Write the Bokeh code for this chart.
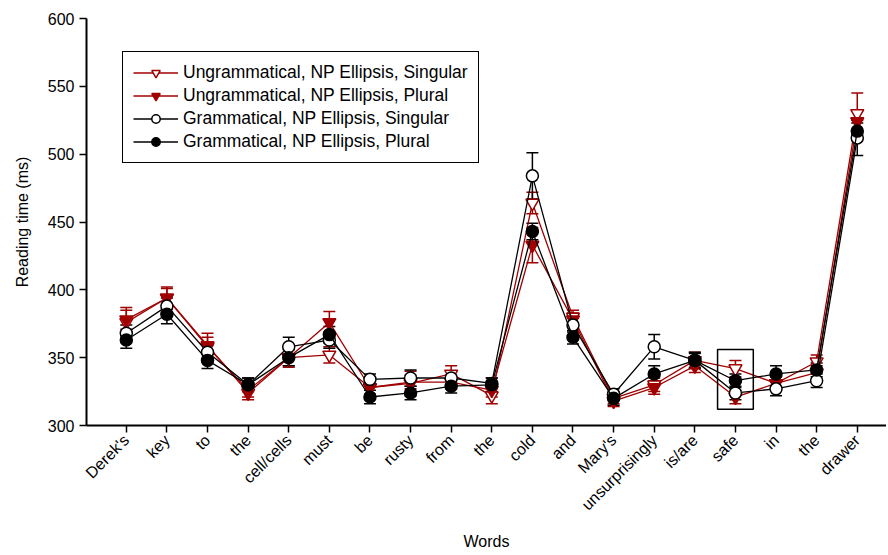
import math
from bokeh.plotting import figure
from bokeh.models import (ColumnDataSource, Whisker, TeeHead, FixedTicker, Range1d,
                          Legend, LegendItem, BoxAnnotation)
from bokeh.embed import file_html
from bokeh.resources import INLINE

words = ["Derek's", "key", "to", "the", "cell/cells", "must", "be", "rusty", "from", "the",
         "cold", "and", "Mary's", "unsurprisingly", "is/are", "safe", "in", "the", "drawer"]

ung_sing = [376, 394, 358, 326, 350, 352, 328, 331, 338, 322, 464, 380, 320, 330, 348, 342, 331, 347, 530]
ung_sing_err = [11, 8, 10, 5, 7, 6, 5, 9, 6, 6, 8, 5, 4, 5, 6, 6, 5, 5, 15]
ung_pl = [378, 394, 359, 324, 350, 376, 328, 332, 332, 326, 433, 378, 318, 328, 344, 321, 331, 339, 524]
ung_pl_err = [7, 7, 6, 5, 6, 8, 5, 5, 5, 5, 13, 5, 4, 5, 5, 5, 5, 5, 8]
gram_sing = [368, 388, 354, 330, 358, 363, 334, 335, 335, 331, 484, 374, 323, 358, 348, 324, 327, 333, 512]
gram_sing_err = [6, 6, 5, 5, 7, 6, 4, 6, 5, 4, 17, 5, 4, 9, 5, 5, 5, 5, 13]
gram_pl = [363, 382, 348, 330, 350, 367, 321, 324, 329, 330, 443, 365, 320, 338, 348, 333, 338, 341, 517]
gram_pl_err = [6, 7, 6, 5, 6, 6, 5, 5, 5, 5, 6, 5, 5, 6, 6, 5, 6, 5, 6]

series_names = ["Ungrammatical, NP Ellipsis, Singular", "Ungrammatical, NP Ellipsis, Plural",
                "Grammatical, NP Ellipsis, Singular", "Grammatical, NP Ellipsis, Plural"]

y_ticks = [300, 350, 400, 450, 500, 550, 600]
highlight_word_index = 15  # "safe"
highlight_low, highlight_high = 312, 356

RED = "#A00000"
FONT = "Liberation Sans"

xs = list(range(1, len(words) + 1))

p = figure(width=886, height=553, output_backend="svg", toolbar_location=None,
           x_range=Range1d(0.02, 19.72), y_range=Range1d(300, 600),
           min_border_left=86, min_border_right=0, min_border_top=18, min_border_bottom=128)
p.outline_line_color = None
p.grid.visible = False
p.background_fill_color = "white"
p.border_fill_color = "white"

styles = [
    (ung_sing, ung_sing_err, RED, "inverted_triangle", "white"),
    (ung_pl, ung_pl_err, RED, "inverted_triangle", RED),
    (gram_sing, gram_sing_err, "black", "circle", "white"),
    (gram_pl, gram_pl_err, "black", "circle", "black"),
]

items = []
for name, (vals, errs, col, mk, fill) in zip(series_names, styles):
    src = ColumnDataSource(dict(x=xs, y=vals,
                                lo=[v - e for v, e in zip(vals, errs)],
                                hi=[v + e for v, e in zip(vals, errs)]))
    w = Whisker(base="x", lower="lo", upper="hi", source=src, line_color=col, line_width=1.5,
                upper_head=TeeHead(size=12, line_color=col, line_width=1.5),
                lower_head=TeeHead(size=12, line_color=col, line_width=1.5))
    p.add_layout(w)
    r1 = p.line("x", "y", source=src, line_color=col, line_width=1.3)
    r2 = p.scatter("x", "y", source=src, marker=mk, size=12 if mk == "circle" else 13,
                   line_color=col, fill_color=fill, line_width=1.5)
    items.append(LegendItem(label=name, renderers=[r1, r2]))

box = BoxAnnotation(left=xs[highlight_word_index] - 0.44, right=xs[highlight_word_index] + 0.44,
                    bottom=highlight_low, top=highlight_high,
                    fill_alpha=0, line_color="black", line_alpha=1, line_width=1.5)
p.add_layout(box)

legend = Legend(items=items, location=(36, 262), border_line_color="black", border_line_width=1.5,
                border_line_alpha=1,
                label_text_font=FONT, label_text_font_size="17.5px", label_text_color="black",
                glyph_width=45, glyph_height=21, label_height=21, label_standoff=5,
                spacing=2, padding=10, background_fill_alpha=1)
p.add_layout(legend, "center")

p.xaxis.ticker = FixedTicker(ticks=xs)
p.xaxis.major_label_overrides = {x: w for x, w in zip(xs, words)}
p.xaxis.major_label_orientation = math.pi / 4
p.yaxis.ticker = FixedTicker(ticks=y_ticks)
p.xaxis.minor_tick_line_color = None
p.yaxis.minor_tick_line_color = None

for ax in (p.xaxis, p.yaxis):
    ax.axis_line_width = 2
    ax.axis_line_color = "black"
    ax.major_tick_line_width = 1.5
    ax.major_tick_line_color = "black"
    ax.major_tick_in = 0
    ax.major_tick_out = 7
    ax.major_label_text_font = FONT
    ax.major_label_text_font_size = "16px"
    ax.major_label_text_color = "black"
    ax.axis_label_text_font = FONT
    ax.axis_label_text_font_size = "16px"
    ax.axis_label_text_font_style = "normal"
    ax.axis_label_text_color = "black"

p.xaxis.axis_label = "Words"
p.yaxis.axis_label = "Reading time (ms)"
p.xaxis.axis_label_standoff = 11
p.yaxis.axis_label_standoff = 14

open("out.html", "w").write(file_html(p, INLINE))
